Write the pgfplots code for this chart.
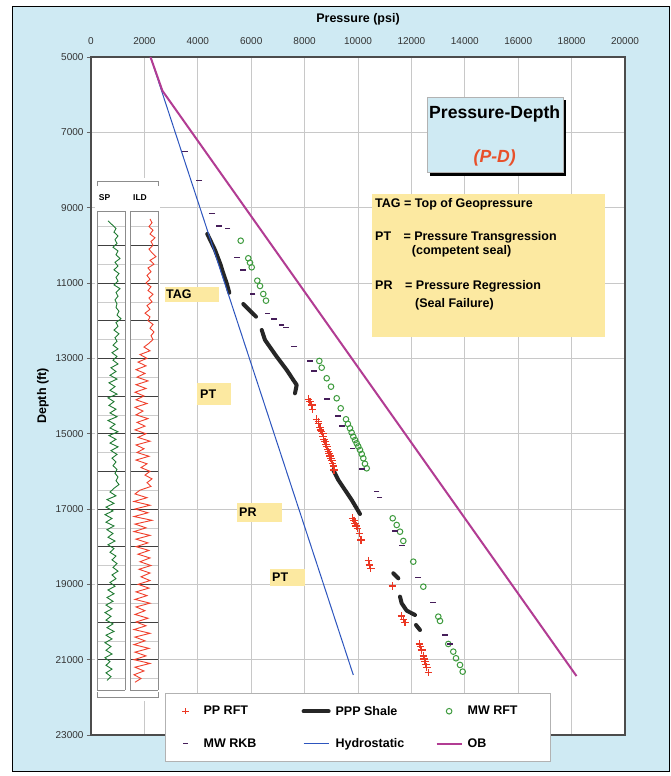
\documentclass[border=0pt]{standalone}
\usepackage{fontspec}
\setmainfont{Liberation Sans}
\usepackage{pgfplots}
\pgfplotsset{compat=1.18}
\definecolor{bgblue}{RGB}{207,234,243}
\definecolor{ppred}{RGB}{235,55,35}
\definecolor{mwgreen}{RGB}{62,155,62}
\definecolor{mwfill}{RGB}{230,238,156}
\definecolor{rkb}{RGB}{70,30,90}
\definecolor{shale}{RGB}{38,38,38}
\definecolor{hydro}{RGB}{45,85,190}
\definecolor{obmag}{RGB}{178,60,147}
\definecolor{spgreen}{RGB}{31,122,50}
\definecolor{ildred}{RGB}{240,64,44}
\definecolor{noteyellow}{RGB}{252,233,161}
\definecolor{gridgray}{RGB}{200,200,200}
\definecolor{pdred}{RGB}{232,80,42}
\pgfplotsset{
  legmark/.style={legend image code/.code={\path (0pt,-4pt) (25pt,4pt);
    \draw[#1] plot coordinates {(12.5pt,0pt)};}},
  legline/.style={legend image code/.code={\path (0pt,-4pt) (25pt,4pt);
    \draw[#1] (0pt,0pt) -- (25pt,0pt);}},
}
\newcommand{\lbf}{\bfseries\fontsize{12.5}{15}\selectfont}
\begin{document}
\begin{tikzpicture}[x=1pt,y=1pt]
\useasboundingbox (0,0) rectangle (670,776);
\fill[white] (0,0) rectangle (670,776);
\fill[bgblue] (12,4) rectangle (669,769);
\draw[black,line width=1pt] (12,4) rectangle (669,769);

\begin{axis}[
  at={(91pt,41pt)}, anchor=south west,
  scale only axis, width=534pt, height=678pt,
  xmin=0, xmax=20000, ymin=5000, ymax=23000,
  y dir=reverse,
  scaled ticks=false,
  xtick={0,2000,...,20000},
  ytick={5000,7000,...,23000},
  xticklabel pos=upper,
  ytick pos=left,
  grid=major, grid style={gridgray, line width=0.8pt},
  axis line style={draw=black!70, line width=1.6pt},
  tick align=outside,
  xtick style={draw=none},
  ytick style={black!60, line width=0.8pt},
  major tick length=4pt,
  ticklabel style={font=\fontsize{10}{12}\selectfont, text=black!80},
  xticklabel style={yshift=4.5pt},
  /pgf/number format/1000 sep={},
  /pgf/number format/assume math mode=true,
  xlabel={Pressure (psi)}, ylabel={Depth (ft)},
  label style={font=\lbf},
  xlabel style={at={(axis description cs:0.5,1)}, anchor=center, yshift=38pt},
  axis background/.style={fill=white},
  unbounded coords=jump,
  legend columns=3,
  legend cell align=left,
  legend style={at={(0.1386,0.0619)}, anchor=north west, draw=black!30, fill=white,
    font=\lbf, inner xsep=7pt, inner ysep=12pt, row sep=21pt, column sep=5pt,
    nodes={inner sep=0pt}},
]
% PP RFT
\addplot[only marks, mark=+, mark size=3.8pt, color=ppred, line width=1.2pt,
  legmark={only marks, mark=+, mark size=3.2pt, color=ppred, draw=ppred, line width=1.3pt}] coordinates {
(8139,14087)(8202,14150)(8266,14238)(8303,14352)
(8453,14618)(8513,14724)(8577,14830)(8640,14947)(8700,15080)(8764,15212)(8828,15345)(8888,15478)(8951,15592)(9015,15717)(9075,15858)(9101,15964)
(8520,14680)(8600,14900)(8680,15000)(8720,15150)(8800,15280)(8860,15420)(8920,15530)(8990,15650)(9050,15800)
(9801,17246)(9888,17379)(9974,17512)(10049,17644)(10112,17822)(9850,17300)(9930,17450)
(10386,18371)(10424,18486)(10476,18573)
(11285,19043)
(11636,19840)(11697,19928)(11760,20017)
(12296,20583)(12386,20742)(12446,20901)(12509,21052)(12573,21201)(12633,21344)(12340,20660)(12480,20980)(12540,21130)
};
\addlegendentry{\makebox[93pt][l]{PP RFT}}
% PPP Shale
\addplot[color=shale, line width=4pt, line cap=round, line join=round,
  legline={color=shale, line width=4pt}] table[row sep=\\] {
x y\\
4356 9699\\ 4644 10124\\ 4858 10522\\ 4933 10700\\ 5082 11008\\ 5180 11257\\
nan nan\\
5704 11557\\ 6180 11894\\
nan nan\\
6393 12247\\ 6517 12513\\ 6955 12956\\ 7330 13309\\ 7577 13575\\ 7704 13707\\ 7640 13928\\
nan nan\\
9075 15964\\ 9262 16229\\ 9513 16495\\ 9764 16760\\ 10075 17132\\
nan nan\\
11322 18706\\ 11509 18839\\
nan nan\\
11573 19327\\ 11636 19503\\ 11824 19699\\ 12135 19813\\
nan nan\\
12172 20079\\ 12322 20212\\
};
\addlegendentry{\makebox[95pt][l]{PPP Shale}}
% MW RFT
\addplot[only marks, mark=o, mark size=2.8pt, color=mwgreen, mark options={draw=mwgreen, fill=mwfill, line width=1pt},
  legmark={only marks, mark=o, mark size=2.8pt, color=mwgreen, draw=mwgreen, fill=mwfill, line width=1pt}] coordinates {
(5607,9877)(5891,10344)(5955,10461)(6019,10583)(6228,10938)(6330,11079)(6453,11292)(6554,11469)
(8551,13070)(8640,13248)(8828,13529)(8989,13752)(9202,14060)(9352,14326)(9551,14618)(9620,14740)(9700,14857)(9760,14970)(9824,15080)(9890,15170)(9951,15255)(10010,15340)(10075,15433)(10140,15540)(10199,15653)(10260,15800)(10326,15919)
(11300,17246)(11449,17424)(11573,17602)(11697,17848)(12071,18398)(12446,19062)(13007,19858)(13071,19972)(13382,20583)(13569,20787)(13670,20962)(13820,21140)(13921,21318)
};
\addlegendentry{\makebox[76pt][l]{MW RFT}}
% MW RKB
\addplot[only marks, mark=-, mark size=2.8pt, color=rkb, line width=1.4pt,
  legmark={only marks, mark=-, mark size=2.5pt, color=rkb, draw=rkb, line width=1.4pt}] coordinates {
(3521,7514)(4056,8284)(4543,9149)(4805,9486)(5105,9547)(5479,10317)(5682,10654)(6056,11291)(6603,11804)(6865,11955)(7142,12115)(7303,12176)(7614,12690)(8202,13070)(8352,13336)(8828,14079)(9262,14530)(9390,14796)(9801,15388)(10139,15937)(10700,16540)(10798,16689)(11386,17583)(11637,17973)(12258,18823)(12798,19476)(13258,20344)(13446,20583)
};
\addlegendentry{\makebox[93pt][l]{MW RKB}}
% Hydrostatic
\addplot[color=hydro, line width=1pt, legline={color=hydro, draw=hydro, line width=1.3pt}] coordinates {(2228,5000) (9824,21406)};
\addlegendentry{\makebox[95pt][l]{Hydrostatic}}
% OB
\addplot[color=obmag, line width=2pt, legline={color=obmag, draw=obmag, line width=2pt}] coordinates {(2228,5000) (2675,5897) (18183,21435)};
\addlegendentry{\makebox[76pt][l]{OB}}
\end{axis}

% well-log panel
\begin{axis}[
  at={(91pt,41pt)}, anchor=south west,
  scale only axis, width=534pt, height=678pt,
  xmin=91, xmax=625, ymin=5000, ymax=23000, y dir=reverse,
  hide axis, clip=false, unbounded coords=jump,
]
\addplot[fill=white, draw=none] coordinates {(95,8200)(160,8200)(160,22100)(95,22100)} -- cycle;
\addplot[black!20, line width=0.4pt] table[row sep=\\] {
x y\\
97 9500\\ 125 9500\\ nan nan\\ 130 9500\\ 158 9500\\ nan nan\\
97 10500\\ 125 10500\\ nan nan\\ 130 10500\\ 158 10500\\ nan nan\\
97 11500\\ 125 11500\\ nan nan\\ 130 11500\\ 158 11500\\ nan nan\\
97 12500\\ 125 12500\\ nan nan\\ 130 12500\\ 158 12500\\ nan nan\\
97 13500\\ 125 13500\\ nan nan\\ 130 13500\\ 158 13500\\ nan nan\\
97 14500\\ 125 14500\\ nan nan\\ 130 14500\\ 158 14500\\ nan nan\\
97 15500\\ 125 15500\\ nan nan\\ 130 15500\\ 158 15500\\ nan nan\\
97 16500\\ 125 16500\\ nan nan\\ 130 16500\\ 158 16500\\ nan nan\\
97 17500\\ 125 17500\\ nan nan\\ 130 17500\\ 158 17500\\ nan nan\\
97 18500\\ 125 18500\\ nan nan\\ 130 18500\\ 158 18500\\ nan nan\\
97 19500\\ 125 19500\\ nan nan\\ 130 19500\\ 158 19500\\ nan nan\\
97 20500\\ 125 20500\\ nan nan\\ 130 20500\\ 158 20500\\ nan nan\\
97 21500\\ 125 21500\\ nan nan\\ 130 21500\\ 158 21500\\
};
\addplot[black!75, line width=1pt] table[row sep=\\] {
x y\\
97 10000\\ 125 10000\\ nan nan\\ 130 10000\\ 158 10000\\ nan nan\\
97 11000\\ 125 11000\\ nan nan\\ 130 11000\\ 158 11000\\ nan nan\\
97 12000\\ 125 12000\\ nan nan\\ 130 12000\\ 158 12000\\ nan nan\\
97 13000\\ 125 13000\\ nan nan\\ 130 13000\\ 158 13000\\ nan nan\\
97 14000\\ 125 14000\\ nan nan\\ 130 14000\\ 158 14000\\ nan nan\\
97 15000\\ 125 15000\\ nan nan\\ 130 15000\\ 158 15000\\ nan nan\\
97 16000\\ 125 16000\\ nan nan\\ 130 16000\\ 158 16000\\ nan nan\\
97 17000\\ 125 17000\\ nan nan\\ 130 17000\\ 158 17000\\ nan nan\\
97 18000\\ 125 18000\\ nan nan\\ 130 18000\\ 158 18000\\ nan nan\\
97 19000\\ 125 19000\\ nan nan\\ 130 19000\\ 158 19000\\ nan nan\\
97 20000\\ 125 20000\\ nan nan\\ 130 20000\\ 158 20000\\ nan nan\\
97 21000\\ 125 21000\\ nan nan\\ 130 21000\\ 158 21000\\
};
\addplot[black!45, line width=0.6pt] table[row sep=\\] {
x y\\
97 8425\\ 97 8292\\ 158 8292\\ 158 8425\\ nan nan\\
97 9088\\ 125 9088\\ nan nan\\ 130 9088\\ 158 9088\\ nan nan\\
97 9088\\ 97 21804\\ nan nan\\ 125 9088\\ 125 21804\\ nan nan\\
130 9088\\ 130 21804\\ nan nan\\ 158 9088\\ 158 21804\\ nan nan\\
97 21804\\ 125 21804\\ nan nan\\ 130 21804\\ 158 21804\\ nan nan\\
97 21860\\ 97 21990\\ 158 21990\\ 158 21860\\
};
% SP curve
\addplot[spgreen, line width=0.9pt] table[row sep=\\] {
x y\\
108 9350\\ 112 9450\\ 116 9550\\ 114 9650\\ 118 9750\\ 115 9850\\ 117 9950\\ 113 10050\\ 118 10150\\ 116 10250\\
120 10350\\ 115 10450\\ 118 10550\\ 114 10650\\ 119 10750\\ 116 10850\\ 118 10950\\ 114 11050\\ 120 11150\\ 116 11250\\
118 11350\\ 115 11450\\ 117 11550\\ 116 11650\\ 119 11750\\ 117 11850\\ 121 11950\\ 116 12050\\ 118 12150\\ 114 12250\\
119 12350\\ 115 12450\\ 117 12550\\ 113 12650\\ 118 12750\\ 112 12850\\ 117 12950\\ 113 13050\\ 118 13150\\ 111 13250\\
116 13350\\ 110 13450\\ 117 13550\\ 109 13650\\ 115 13750\\ 110 13850\\ 117 13950\\ 108 14050\\ 114 14150\\ 109 14250\\
116 14350\\ 110 14450\\ 117 14550\\ 108 14650\\ 115 14750\\ 110 14850\\ 118 14950\\ 109 15050\\ 116 15150\\ 110 15250\\
118 15350\\ 111 15450\\ 117 15550\\ 112 15650\\ 116 15750\\ 113 15850\\ 117 15950\\ 115 16050\\ 118 16150\\ 116 16250\\
119 16350\\ 114 16450\\ 110 16550\\ 116 16650\\ 107 16750\\ 114 16850\\ 106 16950\\ 113 17050\\ 105 17150\\ 112 17250\\
106 17350\\ 114 17450\\ 107 17550\\ 113 17650\\ 108 17750\\ 115 17850\\ 108 17950\\ 114 18050\\ 110 18150\\ 116 18250\\
112 18350\\ 117 18450\\ 113 18550\\ 118 18650\\ 112 18750\\ 116 18850\\ 110 18950\\ 115 19050\\ 108 19150\\ 114 19250\\
107 19350\\ 113 19450\\ 106 19550\\ 112 19650\\ 105 19750\\ 111 19850\\ 106 19950\\ 113 20050\\ 107 20150\\ 114 20250\\
106 20350\\ 112 20450\\ 105 20550\\ 111 20650\\ 106 20750\\ 112 20850\\ 105 20950\\ 110 21050\\ 106 21150\\ 112 21250\\
106 21350\\ 111 21450\\ 107 21550\\
};
% ILD curve
\addplot[ildred, line width=0.9pt] table[row sep=\\] {
x y\\
150 9300\\ 152 9400\\ 149 9500\\ 153 9600\\ 150 9700\\ 155 9800\\ 151 9900\\ 153 10000\\ 149 10100\\ 152 10200\\
156 10300\\ 150 10400\\ 154 10500\\ 148 10600\\ 151 10700\\ 147 10800\\ 150 10900\\ 146 11000\\ 151 11100\\ 148 11200\\
153 11300\\ 149 11400\\ 152 11500\\ 147 11600\\ 150 11700\\ 145 11800\\ 150 11900\\ 148 12000\\ 153 12100\\ 150 12200\\
154 12300\\ 151 12400\\ 153 12500\\ 149 12600\\ 144 12700\\ 150 12800\\ 140 12900\\ 147 13000\\ 138 13100\\ 146 13200\\
136 13300\\ 145 13400\\ 137 13500\\ 148 13600\\ 136 13700\\ 146 13800\\ 135 13900\\ 144 14000\\ 136 14100\\ 147 14200\\
135 14300\\ 143 14400\\ 136 14500\\ 148 14600\\ 137 14700\\ 145 14800\\ 135 14900\\ 146 15000\\ 138 15100\\ 150 15200\\
136 15300\\ 144 15400\\ 137 15500\\ 149 15600\\ 136 15700\\ 147 15800\\ 141 15900\\ 150 16000\\ 145 16100\\ 152 16200\\
147 16300\\ 151 16400\\ 140 16500\\ 135 16600\\ 147 16700\\ 134 16800\\ 150 16900\\ 135 17000\\ 148 17100\\ 134 17200\\
152 17300\\ 135 17400\\ 146 17500\\ 134 17600\\ 150 17700\\ 136 17800\\ 148 17900\\ 136 18000\\ 149 18100\\ 138 18200\\
150 18300\\ 140 18400\\ 151 18500\\ 139 18600\\ 150 18700\\ 141 18800\\ 150 18900\\ 138 19000\\ 149 19100\\ 136 19200\\
147 19300\\ 135 19400\\ 150 19500\\ 136 19600\\ 145 19700\\ 135 19800\\ 148 19900\\ 136 20000\\ 146 20100\\ 134 20200\\
150 20300\\ 135 20400\\ 145 20500\\ 134 20600\\ 149 20700\\ 135 20800\\ 146 20900\\ 134 21000\\ 150 21100\\ 135 21200\\
144 21300\\ 134 21400\\ 141 21500\\ 135 21600\\
};
\node[font=\bfseries\fontsize{8.5}{10}\selectfont] at (axis cs:104.5,8743) {SP};
\node[font=\bfseries\fontsize{8.5}{10}\selectfont] at (axis cs:140,8743) {ILD};
\end{axis}

% title box
\fill[black] (429.7,600.3) rectangle (565.7,675.7);
\filldraw[fill=bgblue, draw=black!30] (426.7,603.3) rectangle (562.7,678.7);
\node[font=\bfseries\fontsize{17.6}{20}\selectfont] at (494.7,662) {Pressure-Depth};
\node[font=\bfseries\itshape\fontsize{17.6}{20}\selectfont, text=pdred] at (494.7,618) {(P-D)};

% definitions box
\fill[noteyellow] (371.7,439.3) rectangle (605,582);
\node[font=\lbf, anchor=base west, inner sep=0pt] at (375,568.7) {TAG = Top of Geopressure};
\node[font=\lbf, anchor=base west, inner sep=0pt] at (375,535.3) {PT};
\node[font=\lbf, anchor=base west, inner sep=0pt] at (403.3,535.3) {= Pressure Transgression};
\node[font=\lbf, anchor=base west, inner sep=0pt] at (411.7,521) {(competent seal)};
\node[font=\lbf, anchor=base west, inner sep=0pt] at (375,486.7) {PR};
\node[font=\lbf, anchor=base west, inner sep=0pt] at (405,486.7) {= Pressure Regression};
\node[font=\lbf, anchor=base west, inner sep=0pt] at (415,468.7) {(Seal Failure)};

% small labels
\fill[noteyellow] (165,473.7) rectangle (219,489.3);
\node[font=\lbf, anchor=base west, inner sep=0pt] at (166,477) {TAG};
\fill[noteyellow] (197.3,371) rectangle (230.7,392.7);
\node[font=\lbf, anchor=base west, inner sep=0pt] at (200,377.5) {PT};
\fill[noteyellow] (237,254) rectangle (281.7,273);
\node[font=\lbf, anchor=base west, inner sep=0pt] at (239,259) {PR};
\fill[noteyellow] (270,190) rectangle (305,207);
\node[font=\lbf, anchor=base west, inner sep=0pt] at (272,194) {PT};
\end{tikzpicture}
\end{document}
